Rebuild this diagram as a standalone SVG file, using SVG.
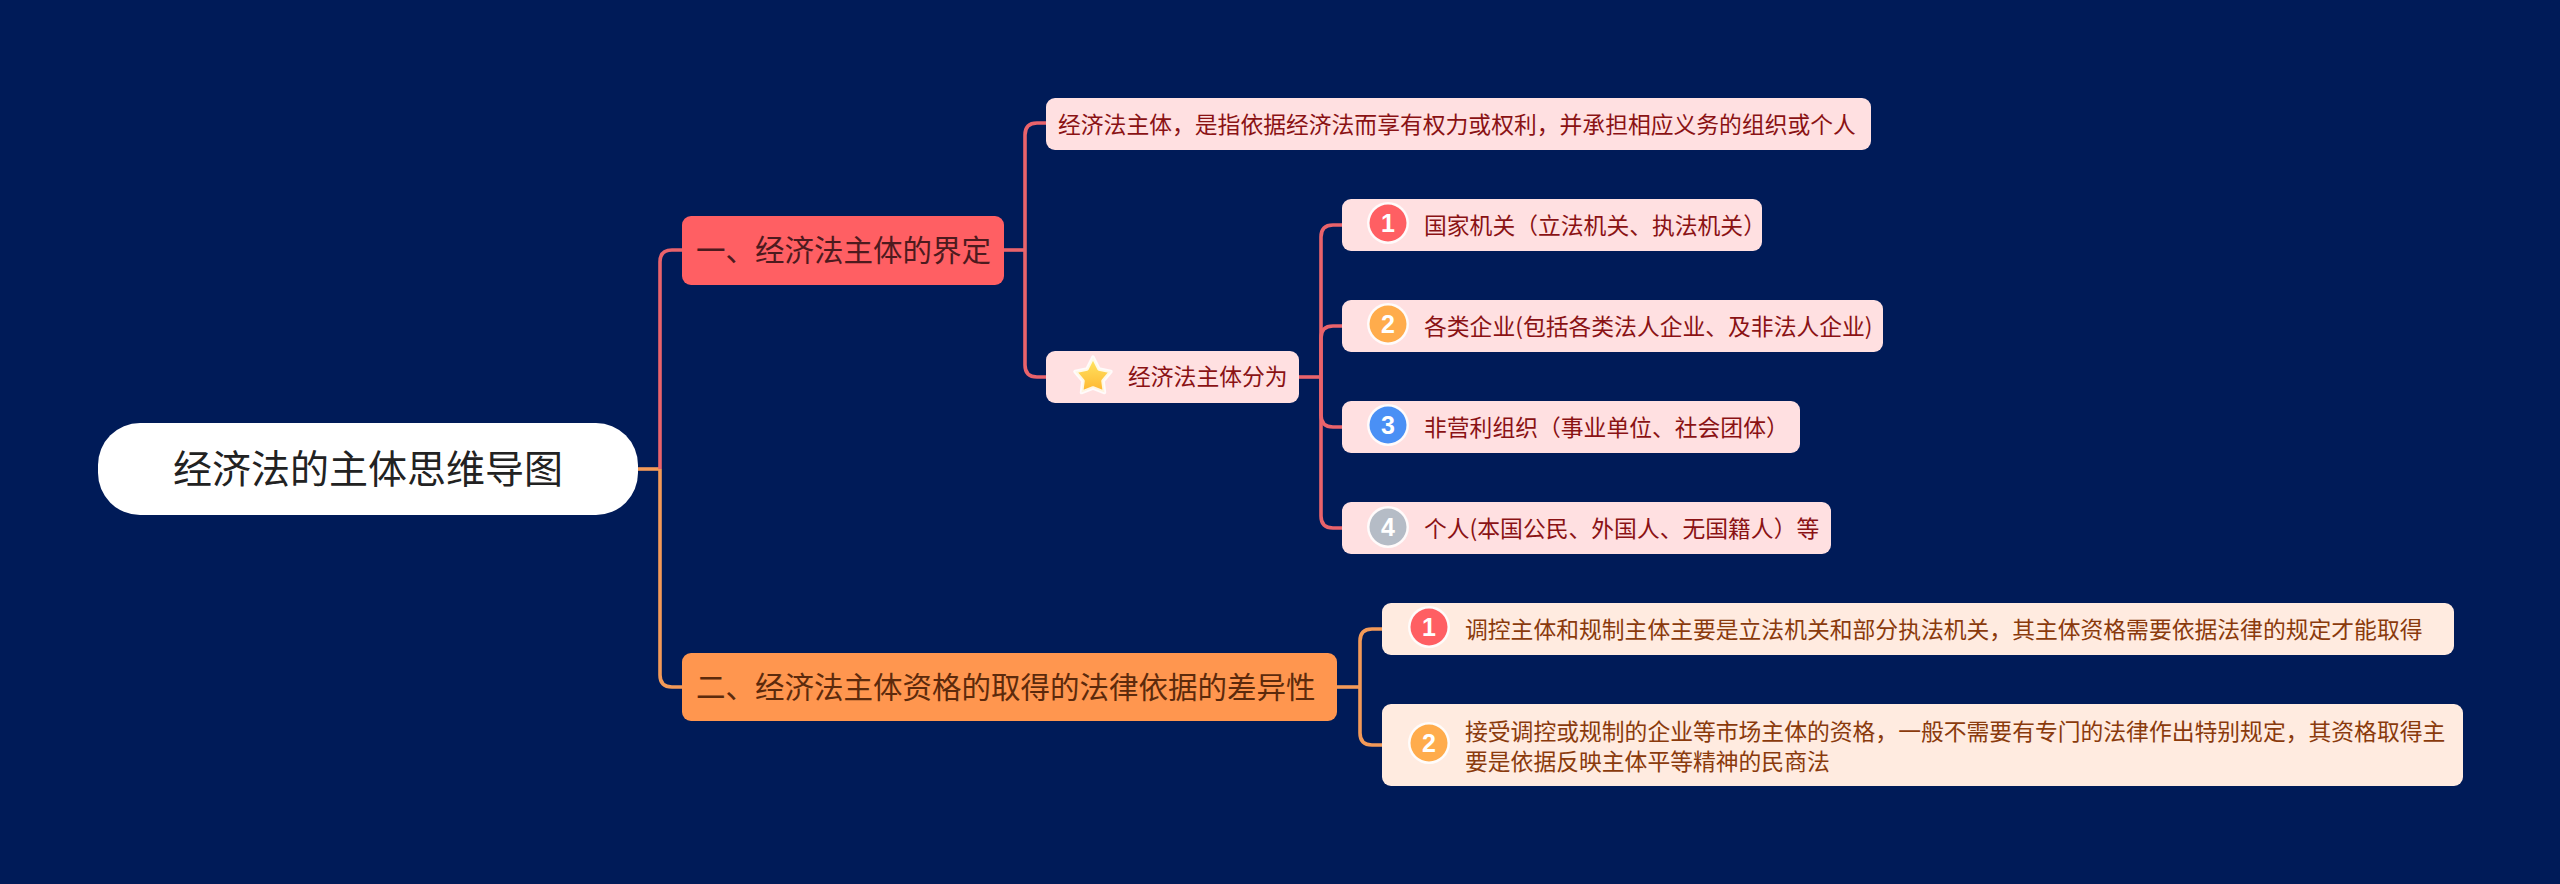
<svg xmlns="http://www.w3.org/2000/svg" width="2560" height="884" viewBox="0 0 2560 884">
<defs>
<style>
text{font-family:"Noto Sans CJK SC","Noto Sans",sans-serif}
.root{fill:#fff}
.b1{fill:#ff5f63}
.b2{fill:#ff964f}
.l1{fill:#ffe0e1}
.l2{fill:#ffebe0}
.tr{font-size:39px;fill:#222}
.tb1{font-size:29.5px;fill:#4d1a1e}
.tb2{font-size:29.5px;fill:#5c2a0c}
.t1{font-size:22.8px;fill:#8a1214}
.t2{font-size:22.8px;fill:#8a3a0c}
.halo{fill:#fff;fill-opacity:.85}
.n{font-family:"Liberation Sans",sans-serif;font-size:25px;font-weight:700;fill:#fff;text-anchor:middle}
.c1{fill:none;stroke:#e9636b;stroke-width:3.6}
.c2{fill:none;stroke:#f39a58;stroke-width:3.6}
</style>
<linearGradient id="star" x1="0" y1="0" x2="0" y2="1"><stop offset="0" stop-color="#ffe866"/><stop offset="1" stop-color="#ffb52e"/></linearGradient>
</defs>
<rect width="2560" height="884" fill="#001b58"/>
<g id="connectors">
<path class="c2" d="M638 469H660"/>
<path class="c1" d="M660 469V262Q660 250 672 250H682"/>
<path class="c2" d="M660 469V675Q660 687 672 687H682"/>
<path class="c1" d="M1004 250H1025"/>
<path class="c1" d="M1046 123H1037Q1025 123 1025 135V365Q1025 377 1037 377H1046"/>
<path class="c1" d="M1299 377H1321"/>
<path class="c1" d="M1342 225H1333Q1321 225 1321 237V516Q1321 528 1333 528H1342"/>
<path class="c1" d="M1342 326H1333Q1321 326 1321 338V415Q1321 427 1333 427H1342"/>
<path class="c2" d="M1337 687H1360"/>
<path class="c2" d="M1382 629H1372Q1360 629 1360 641V733Q1360 745 1372 745H1382"/>
</g>
<g id="root"><rect class="root" x="98" y="423" width="540" height="92" rx="42"/><text class="tr" x="173" y="483">经济法的主体思维导图</text></g>
<g id="branch1"><rect class="b1" x="682" y="216" width="322" height="69" rx="9"/><text class="tb1" x="696" y="261">一、经济法主体的界定</text></g>
<g id="branch2"><rect class="b2" x="682" y="653" width="655" height="68" rx="9"/><text class="tb2" x="696" y="698">二、经济法主体资格的取得的法律依据的差异性</text></g>
<g id="definition"><rect class="l1" x="1046" y="98" width="825" height="52" rx="9"/><text class="t1" x="1058" y="133">经济法主体，是指依据经济法而享有权力或权利，并承担相应义务的组织或个人</text></g>
<g id="types"><rect class="l1" x="1046" y="351" width="253" height="52" rx="9"/>
<path d="M1093 357L1099 369L1111 371.500L1103 381L1104.500 392.500L1093 388L1081.500 392.500L1083 381L1075 371.500L1087 369Z" fill="url(#star)" stroke="#fff" stroke-opacity=".85" stroke-width="3.500" stroke-linejoin="round"/>
<text class="t1" x="1128" y="385">经济法主体分为</text></g>
<g id="type1"><rect class="l1" x="1342" y="199" width="420" height="52" rx="9"/><circle class="halo" cx="1388" cy="223" r="21"/><circle cx="1388" cy="223" r="18.500" fill="#ff5f63"/><text class="n" x="1388" y="232">1</text><text class="t1" x="1424" y="234">国家机关（立法机关、执法机关）</text></g>
<g id="type2"><rect class="l1" x="1342" y="300" width="541" height="52" rx="9"/><circle class="halo" cx="1388" cy="324" r="21"/><circle cx="1388" cy="324" r="18.500" fill="#ffac4c"/><text class="n" x="1388" y="333">2</text><text class="t1" x="1424" y="335">各类企业(包括各类法人企业、及非法人企业)</text></g>
<g id="type3"><rect class="l1" x="1342" y="401" width="458" height="52" rx="9"/><circle class="halo" cx="1388" cy="425" r="21"/><circle cx="1388" cy="425" r="18.500" fill="#4a90f5"/><text class="n" x="1388" y="434">3</text><text class="t1" x="1424" y="436">非营利组织（事业单位、社会团体）</text></g>
<g id="type4"><rect class="l1" x="1342" y="502" width="489" height="52" rx="9"/><circle class="halo" cx="1388" cy="527" r="21"/><circle cx="1388" cy="527" r="18.500" fill="#b5bcc6"/><text class="n" x="1388" y="536">4</text><text class="t1" x="1424" y="537">个人(本国公民、外国人、无国籍人）等</text></g>
<g id="diff1"><rect class="l2" x="1382" y="603" width="1072" height="52" rx="9"/><circle class="halo" cx="1429" cy="627" r="21"/><circle cx="1429" cy="627" r="18.500" fill="#ff5f63"/><text class="n" x="1429" y="636">1</text><text class="t2" x="1465" y="638">调控主体和规制主体主要是立法机关和部分执法机关，其主体资格需要依据法律的规定才能取得</text></g>
<g id="diff2"><rect class="l2" x="1382" y="704" width="1081" height="82" rx="9"/><circle class="halo" cx="1429" cy="743" r="21"/><circle cx="1429" cy="743" r="18.500" fill="#ffac4c"/><text class="n" x="1429" y="752">2</text><text class="t2" x="1465" y="740">接受调控或规制的企业等市场主体的资格，一般不需要有专门的法律作出特别规定，其资格取得主</text><text class="t2" x="1465" y="770">要是依据反映主体平等精神的民商法</text></g>
</svg>
